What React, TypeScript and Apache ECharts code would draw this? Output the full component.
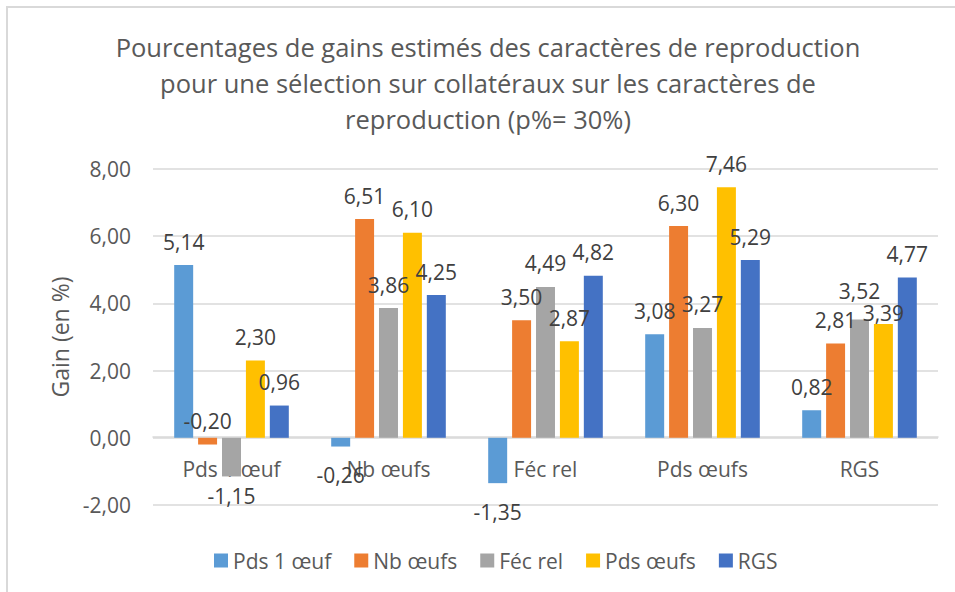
import React, { useEffect, useRef } from "react";
import * as echarts from "echarts";

const categories = ["Pds 1 œuf", "Nb œufs", "Féc rel", "Pds œufs", "RGS"];
const seriesNames = ["Pds 1 œuf", "Nb œufs", "Féc rel", "Pds œufs", "RGS"];
const pds1Oeuf = [5.14, -0.26, -1.35, 3.08, 0.82];
const nbOeufs = [-0.2, 6.51, 3.5, 6.3, 2.81];
const fecRel = [-1.15, 3.86, 4.49, 3.27, 3.52];
const pdsOeufs = [2.3, 6.1, 2.87, 7.46, 3.39];
const rgs = [0.96, 4.25, 4.82, 5.29, 4.77];
const yTicks = { min: -2, max: 8, interval: 2 };
const titleText =
  "Pourcentages de gains estimés des caractères de reproduction\npour une sélection sur collatéraux sur les caractères de\nreproduction (p%= 30%)";
const yAxisName = "Gain (en %)";

const colors = ["#5B9BD5", "#ED7D31", "#A5A5A5", "#FFC000", "#4472C4"];
// labels that Excel moved above the zero line: [seriesIndex, categoryIndex]
const labelsAboveZero = [[1, 0]];
// vertical nudges Excel applied to avoid collisions: [seriesIndex, categoryIndex, dy]
const labelNudges = [
  [2, 4, -5],
  [3, 4, 13],
  [2, 0, -9],
];

const FONT = "'Open Sans', sans-serif";
const fmt = (v: number) => v.toFixed(2).replace(".", ",");

export default function App() {
  const ref = useRef<HTMLDivElement>(null);
  useEffect(() => {
    if (!ref.current) return;
    const chart = echarts.init(ref.current, null, { renderer: "svg" });
    const allSeries = [pds1Oeuf, nbOeufs, fecRel, pdsOeufs, rgs];
    const series = allSeries.map((vals, si) => ({
      name: seriesNames[si],
      type: "bar",
      barGap: "26%",
      barCategoryGap: "27%",
      itemStyle: { color: colors[si] },
      data: vals.map((v, ci) => {
        const above = labelsAboveZero.some(([s, c]) => s === si && c === ci);
        const nudge = labelNudges.find(([s, c]) => s === si && c === ci);
        return {
          value: v,
          label: {
            position: v < 0 && !above ? "bottom" : "top",
            distance: above ? 6 : v < 0 ? 18 : 13,
            offset: [0, nudge ? nudge[2] : 0],
          },
        };
      }),
      label: {
        show: true,
        color: "#404040",
        fontFamily: FONT,
        fontSize: 21,
        formatter: (p: any) => fmt(p.value),
      },
    }));
    chart.setOption({
      animation: false,
      backgroundColor: "#ffffff",
      textStyle: { fontFamily: FONT },
      grid: { left: 153, right: 17, top: 169, bottom: 87, containLabel: false },
      legend: {
        data: seriesNames,
        left: 209,
        top: 545,
        itemWidth: 14,
        itemHeight: 14,
        itemGap: 23,
        icon: "rect",
        textStyle: { color: "#595959", fontFamily: FONT, fontSize: 21 },
      },
      xAxis: {
        type: "category",
        data: categories,
        offset: -68,
        axisLine: { show: true, onZero: false, lineStyle: { color: "#d9d9d9", width: 1.5 } },
        axisTick: { show: false },
        axisLabel: { color: "#595959", fontFamily: FONT, fontSize: 21, margin: 21 },
      },
      yAxis: {
        type: "value",
        min: yTicks.min,
        max: yTicks.max,
        interval: yTicks.interval,
        name: yAxisName,
        nameLocation: "middle",
        nameGap: 82,
        nameTextStyle: { color: "#595959", fontFamily: FONT, fontSize: 23 },
        axisLine: { show: false },
        axisTick: { show: false },
        axisLabel: { color: "#595959", fontFamily: FONT, fontSize: 21, margin: 22, formatter: (v: number) => fmt(v) },
        splitLine: { lineStyle: { color: "#d9d9d9", width: 1.5 } },
      },
      graphic: [
        {
          type: "rect",
          shape: { x: 7, y: 7, width: 980, height: 620 },
          style: { fill: "none", stroke: "#d9d9d9", lineWidth: 2 },
          silent: true,
        },
        {
          type: "text",
          x: 488,
          y: 29,
          style: {
            text: titleText,
            textAlign: "center",
            textVerticalAlign: "top",
            fill: "#595959",
            fontFamily: FONT,
            fontSize: 25.5,
            lineHeight: 36,
          },
        },
      ],
      series,
    });
    return () => chart.dispose();
  }, []);
  return <div ref={ref} style={{ position: "fixed", left: 0, top: 0, width: 955, height: 592 }} />;
}
